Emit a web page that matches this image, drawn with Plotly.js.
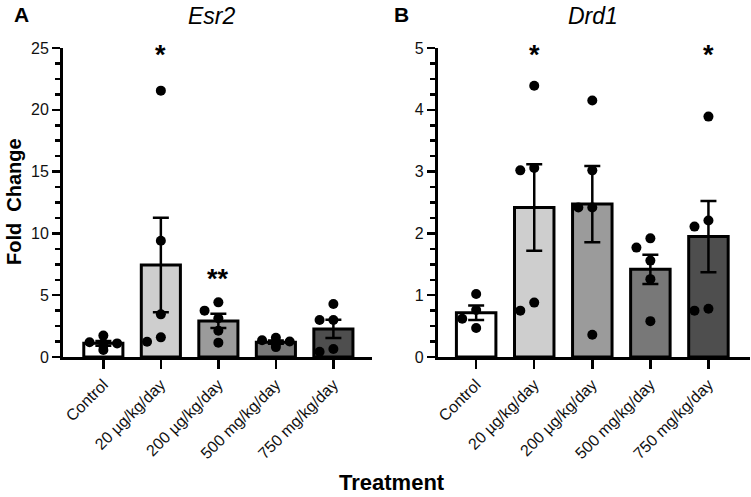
<!DOCTYPE html>
<html>
<head>
<meta charset="utf-8">
<script src="https://cdn.plot.ly/plotly-3.0.1.min.js"></script>
<style>
  html, body { margin: 0; padding: 0; background: #fff; }
  #plot { width: 751px; height: 497px; }
</style>
</head>
<body>
<div id="plot"></div>
<script>
// Treatment groups (x categories)
var treatments = ["Control", "20 µg/kg/day", "200 µg/kg/day", "500 mg/kg/day", "750 mg/kg/day"];

// Esr2 fold change, one value per animal
var esr2Control = [1.19, 1.73, 1.10, 0.92, 0.57];
var esr2Low = [21.55, 9.41, 3.45, 1.59, 1.24];
var esr2High = [4.42, 3.75, 3.13, 2.13, 1.16];
var esr2Mg500 = [1.55, 1.35, 1.25, 1.05, 0.80];
var esr2Mg750 = [4.29, 3.00, 3.00, 0.65, 0.43];
var esr2Stars = ["", "*", "**", "", ""];

// Drd1 fold change, one value per animal
var drd1Control = [1.02, 0.76, 0.62, 0.47];
var drd1Low = [4.39, 3.06, 3.02, 0.88, 0.75];
var drd1High = [4.15, 3.02, 2.42, 2.42, 0.36];
var drd1Mg500 = [1.92, 1.77, 1.56, 1.26, 0.58];
var drd1Mg750 = [3.89, 2.21, 2.11, 0.78, 0.75];
var drd1Stars = ["", "*", "", "", "*"];

var esr2 = [esr2Control, esr2Low, esr2High, esr2Mg500, esr2Mg750];
var drd1 = [drd1Control, drd1Low, drd1High, drd1Mg500, drd1Mg750];

var barColors = ["#ffffff", "#cecece", "#9b9b9b", "#787878", "#4e4e4e"];

function mean(a) {
  return a.reduce(function (s, v) { return s + v; }, 0) / a.length;
}
function sem(a) {
  var m = mean(a);
  var ss = a.reduce(function (s, v) { return s + (v - m) * (v - m); }, 0);
  return Math.sqrt(ss / (a.length - 1)) / Math.sqrt(a.length);
}

// simple beeswarm so overlapping dots spread sideways
function swarm(groups, pxPerY) {
  var xs = [], ys = [];
  var pxPerX = 57.5, minDist = 11;
  var steps = [0, -0.24, 0.24, -0.12, 0.12, -0.36, 0.36];
  groups.forEach(function (vals, gi) {
    var placed = [];
    vals.slice().sort(function (a, b) { return b - a; }).forEach(function (v) {
      var off = steps.find(function (o) {
        return placed.every(function (p) {
          var dx = (p[0] - o) * pxPerX, dy = (p[1] - v) * pxPerY;
          return Math.sqrt(dx * dx + dy * dy) >= minDist;
        });
      });
      if (off === undefined) off = 0;
      placed.push([off, v]);
      xs.push(gi + off);
      ys.push(v);
    });
  });
  return { x: xs, y: ys };
}

function panelTraces(groups, xa, ya, pxPerY) {
  var idx = groups.map(function (g, i) { return i; });
  var pts = swarm(groups, pxPerY);
  return [
    {
      type: "bar",
      x: idx,
      y: groups.map(mean),
      width: 0.68,
      xaxis: xa, yaxis: ya,
      marker: { color: barColors, line: { color: "#000", width: 3 } },
      error_y: { type: "data", array: groups.map(sem), color: "#000", thickness: 2.5, width: 8 },
      hoverinfo: "y"
    },
    {
      type: "scatter",
      mode: "markers",
      x: pts.x,
      y: pts.y,
      xaxis: xa, yaxis: ya,
      cliponaxis: false,
      marker: { color: "#000", size: 10 },
      hoverinfo: "y"
    }
  ];
}

var data = panelTraces(esr2, "x", "y", 12.36).concat(panelTraces(drd1, "x2", "y2", 61.8));

var font = { family: "Liberation Sans, Arial, sans-serif", color: "#111" };

function xAxis(domain, range, anchor) {
  return {
    domain: domain, range: range, anchor: anchor,
    tickvals: [0, 1, 2, 3, 4], ticktext: treatments, tickangle: -45,
    ticks: "outside", ticklen: 9, tickwidth: 2.5, tickcolor: "#000",
    tickfont: { size: 16, color: "#111" },
    showline: true, linewidth: 3, linecolor: "#000",
    showgrid: false, zeroline: false, fixedrange: true
  };
}
function yAxis(range, dtick, minor, anchor) {
  return {
    domain: [0.2817, 0.9034], range: range, anchor: anchor,
    dtick: dtick, ticks: "outside", ticklen: 8, tickwidth: 2.5, tickcolor: "#000",
    minor: { dtick: minor, ticks: "outside", ticklen: 5, tickwidth: 2.5, tickcolor: "#000", showgrid: false },
    tickfont: { size: 16, color: "#111" },
    showline: true, linewidth: 3, linecolor: "#000",
    showgrid: false, zeroline: false, fixedrange: true
  };
}

var annotations = [];
function starNotes(stars, xref, yref, top) {
  stars.forEach(function (s, i) {
    if (!s) return;
    var y = s === "**" ? 6.9 : top;
    annotations.push({
      xref: xref, yref: yref, x: i, y: y, text: "<b>" + s + "</b>",
      showarrow: false, xanchor: "center", yanchor: "middle", yshift: -7,
      font: { family: font.family, size: 27, color: "#000" }
    });
  });
}
starNotes(esr2Stars, "x", "y", 25);
starNotes(drd1Stars, "x2", "y2", 5);

function paperText(text, px, py, size, angle) {
  annotations.push({
    xref: "paper", yref: "paper", x: px / 751, y: 1 - py / 497,
    text: text, showarrow: false, xanchor: "center", yanchor: "middle",
    textangle: angle || 0,
    font: { family: font.family, size: size, color: "#000" }
  });
}
paperText("<b>A</b>", 21, 15, 21);
paperText("<b>B</b>", 401, 15, 21);
paperText("<i>Esr2</i>", 212, 16, 23);
paperText("<i>Drd1</i>", 593, 16, 23);
paperText("<b>Fold\u00a0 Change</b>", 14, 202, 20, -90);
paperText("<b>Treatment</b>", 392, 482, 22);

var layout = {
  width: 751, height: 497,
  margin: { l: 0, r: 0, t: 0, b: 0 },
  paper_bgcolor: "#fff", plot_bgcolor: "#fff",
  showlegend: false,
  font: font,
  xaxis: xAxis([0.084, 0.496], [-0.7, 4.68], "y"),
  yaxis: yAxis([0, 25], 5, 1.25, "x"),
  xaxis2: xAxis([0.583, 0.999], [-0.66, 4.72], "y2"),
  yaxis2: yAxis([0, 5], 1, 0.25, "x2"),
  annotations: annotations
};

Plotly.newPlot("plot", data, layout, { displayModeBar: false, staticPlot: true });
</script>
</body>
</html>
